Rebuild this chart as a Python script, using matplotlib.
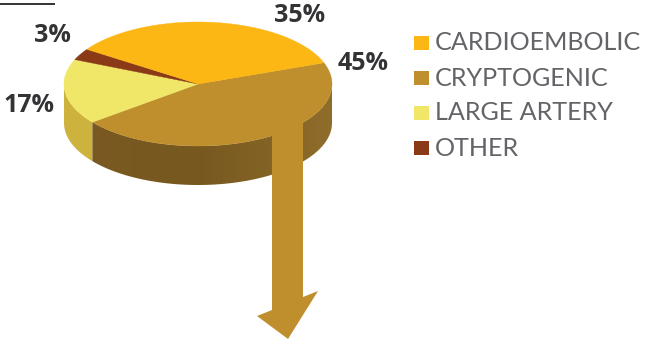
import numpy as np
import matplotlib
matplotlib.use("Agg")
import matplotlib.pyplot as plt
from matplotlib.colors import LinearSegmentedColormap
from matplotlib.patches import Polygon, Rectangle

# Stroke aetiology shares, drawn clockwise starting at the cardioembolic/cryptogenic edge
categories = ["CRYPTOGENIC", "LARGE ARTERY", "OTHER", "CARDIOEMBOLIC"]
shares = [45, 17, 3, 35]
top_colors = ["#BF8F2E", "#F0E768", "#8A3A16", "#FDB714"]

legend_order = ["CARDIOEMBOLIC", "CRYPTOGENIC", "LARGE ARTERY", "OTHER"]

label_offsets = {"CRYPTOGENIC": (363, 63), "LARGE ARTERY": (29, 106),
                 "OTHER": (52, 35), "CARDIOEMBOLIC": (300, 16)}

CX, CY, RX, RY, DEPTH = 198, 84, 134, 62, 39
START = 20.0

fig = plt.figure(figsize=(6.54, 3.46), dpi=100, facecolor="white")
ax = fig.add_axes([0, 0, 1, 1])


def rim(t0, t1, dy=0.0, n=120):
    t = np.radians(np.linspace(t0, t1, n))
    return np.column_stack([CX + RX * np.cos(t), CY + dy - RY * np.sin(t)])


# Wedge edges in ellipse-parameter degrees, walking clockwise
edges = START - np.cumsum([0] + [s * 3.6 for s in shares])

# Outer wall: the large-artery piece is flat, the cryptogenic piece lightens towards the right
boundary = edges[1]
large_wall = np.vstack([rim(-180, boundary, 0), rim(boundary, -180, DEPTH)])
ax.add_patch(Polygon(large_wall, closed=True, fc="#CDB23E", ec="none", zorder=2))

crypto_wall = np.vstack([rim(boundary, 0, 0), rim(0, boundary, DEPTH)])
wall_cmap = LinearSegmentedColormap.from_list("wall", ["#7A5A22", "#77581F", "#8F6D2B"])
shade = ax.imshow(np.linspace(0, 1, 256).reshape(1, -1), cmap=wall_cmap, aspect="auto",
                  extent=(CX - RX, CX + RX, CY + RY + DEPTH, CY), zorder=2)
shade.set_clip_path(Polygon(crypto_wall, closed=True, transform=ax.transData))

# Top face
for i, cat in enumerate(categories):
    pts = np.vstack([[CX, CY], rim(edges[i], edges[i + 1])])
    ax.add_patch(Polygon(pts, closed=True, fc=top_colors[i], ec=top_colors[i], lw=0.3, zorder=3))

# Arrow leading down out of the cryptogenic slice
arrow = [(272, 134), (272, 310), (257, 316), (288, 339), (318, 291), (303, 297), (303, 118)]
ax.add_patch(Polygon(arrow, closed=True, fc=top_colors[0], ec="none", zorder=4))

# Short rule at the top left
ax.plot([0, 55], [4, 4], color="#333333", lw=1.4, solid_capstyle="butt", zorder=1)

# Percentage labels
for cat, share in zip(categories, shares):
    x, y = label_offsets[cat]
    ax.text(x, y, f"{share}%", ha="center", va="center", family="Open Sans",
            weight="bold", fontsize=18, color="#333336", zorder=5)

# Legend
legend_y = [43, 78, 113, 148]
for cat, y in zip(legend_order, legend_y):
    col = top_colors[categories.index(cat)]
    ax.add_patch(Rectangle((414, y - 7), 15, 14, fc=col, ec="none", zorder=5))
    ax.text(435, y, cat, ha="left", va="center", family="Lato",
            fontsize=18.1, color="#636468", zorder=5)

ax.set_xlim(0, 654)
ax.set_ylim(346, 0)
ax.axis("off")

fig.savefig("out.png", dpi=100, facecolor="white")
